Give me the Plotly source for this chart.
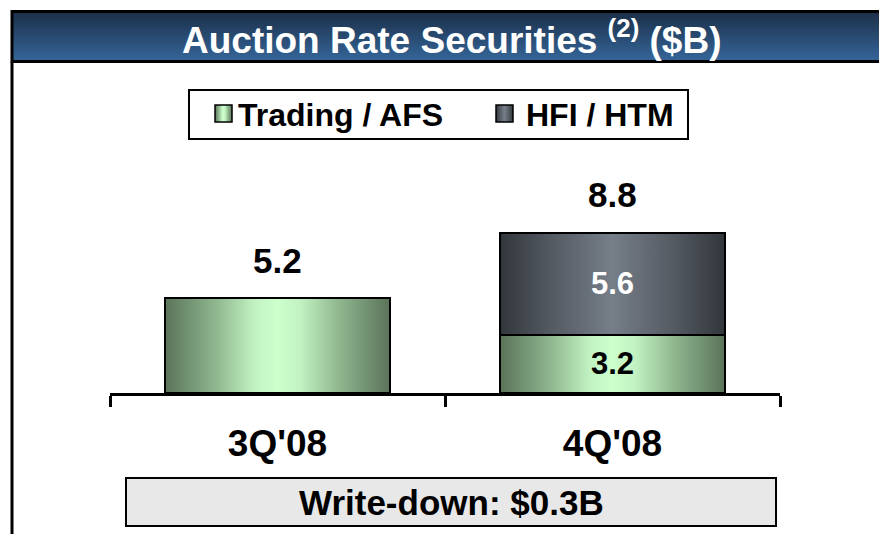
import base64
import plotly.graph_objects as go

# ---- data ----
categories = ["3Q'08", "4Q'08"]
trading_afs = [5.2, 3.2]
hfi_htm = [0.0, 5.6]
series_names = ["Trading / AFS", "HFI / HTM"]
title_text = "Auction Rate Securities <sup>(2)</sup> ($B)"
footer_text = "Write-down: $0.3B"

W, H = 879, 534
PL, PR, PT, PB = 110, 780, 211, 393  # plot area in px
YMAX = 10.0
BAR_W = 0.672
FONT = "Liberation Sans, Arial, sans-serif"


def px(x):
    return (x - PL) / (PR - PL)


def py(y):
    return (PB - y) / (PB - PT)


def grad_uri(stops, vertical=False):
    x2, y2 = ("0", "1") if vertical else ("1", "0")
    st = "".join(f'<stop offset="{o}" stop-color="{c}"/>' for o, c in stops)
    svg = (f'<svg xmlns="http://www.w3.org/2000/svg" width="100" height="100" preserveAspectRatio="none">'
           f'<defs><linearGradient id="g" x1="0" y1="0" x2="{x2}" y2="{y2}">{st}</linearGradient></defs>'
           f'<rect width="100" height="100" fill="url(#g)"/></svg>')
    return "data:image/svg+xml;base64," + base64.b64encode(svg.encode()).decode()


GREEN = grad_uri([(0, "#5a735a"), (0.22, "#8db58d"), (0.4, "#c2f2c2"), (0.5, "#ccffcc"),
                  (0.6, "#c2f2c2"), (0.78, "#8db58d"), (1, "#5a735a")])
GRAY = grad_uri([(0, "#32363c"), (0.22, "#535961"), (0.5, "#767e89"), (0.78, "#535961"), (1, "#32363c")])
TITLEBG = grad_uri([(0, "#1b2e47"), (1, "#35679b")], vertical=True)

fig = go.Figure()
fig.add_trace(go.Bar(
    x=categories, y=trading_afs, name=series_names[0], width=BAR_W,
    marker=dict(color="rgba(0,0,0,0)", line=dict(color="black", width=2)),
    showlegend=False, hoverinfo="skip"))
fig.add_trace(go.Bar(
    x=categories, y=hfi_htm, name=series_names[1], width=BAR_W,
    marker=dict(color="rgba(0,0,0,0)",
                line=dict(color=["black" if v > 0 else "rgba(0,0,0,0)" for v in hfi_htm], width=2)),
    showlegend=False, hoverinfo="skip"))

images = []
annotations = []
for i, (a, b) in enumerate(zip(trading_afs, hfi_htm)):
    images.append(dict(source=GREEN, xref="x", yref="y", x=i - BAR_W / 2, y=a,
                       sizex=BAR_W, sizey=a, sizing="stretch", layer="below"))
    if b > 0:
        images.append(dict(source=GRAY, xref="x", yref="y", x=i - BAR_W / 2, y=a + b,
                           sizex=BAR_W, sizey=b, sizing="stretch", layer="below"))
        annotations.append(dict(x=categories[i], y=a / 2, xref="x", yref="y", text=f"<b>{a:.1f}</b>",
                                showarrow=False, xanchor="center", yanchor="middle",
                                font=dict(family=FONT, size=31, color="black")))
        annotations.append(dict(x=categories[i], y=a + b / 2, xref="x", yref="y", text=f"<b>{b:.1f}</b>",
                                showarrow=False, xanchor="center", yanchor="middle",
                                font=dict(family=FONT, size=31, color="white")))
    annotations.append(dict(x=categories[i], y=a + b, xref="x", yref="y", text=f"<b>{a + b:.1f}</b>",
                            showarrow=False, xanchor="center", yanchor="middle", yshift=38,
                            font=dict(family=FONT, size=35, color="black")))

# title bar
images.append(dict(source=TITLEBG, xref="paper", yref="paper", x=px(12), y=py(11),
                   sizex=px(890) - px(12), sizey=py(11) - py(62), sizing="stretch", layer="below"))
shapes = [
    dict(type="rect", xref="paper", yref="paper", x0=px(12), x1=px(895), y0=py(61.5), y1=py(11.5),
         line=dict(color="black", width=3), fillcolor="rgba(0,0,0,0)"),
    dict(type="line", xref="paper", yref="paper", x0=px(12), x1=px(12), y0=py(62), y1=py(540),
         line=dict(color="black", width=3)),
    # legend box
    dict(type="rect", xref="paper", yref="paper", x0=px(189), x1=px(688), y0=py(139), y1=py(90),
         line=dict(color="black", width=2), fillcolor="rgba(0,0,0,0)"),
    # footer box
    dict(type="rect", xref="paper", yref="paper", x0=px(126), x1=px(776), y0=py(526), y1=py(478),
         line=dict(color="black", width=2), fillcolor="#e8e8e8", layer="below"),
]
# legend swatches
for sx, src in ((215, GREEN), (496, GRAY)):
    images.append(dict(source=src, xref="paper", yref="paper", x=px(sx), y=py(105),
                       sizex=px(sx + 17) - px(sx), sizey=py(105) - py(122), sizing="stretch", layer="above"))
    shapes.append(dict(type="rect", xref="paper", yref="paper", x0=px(sx), x1=px(sx + 17),
                       y0=py(122), y1=py(105), line=dict(color="black", width=1.5)))

annotations += [
    dict(x=px(452), y=py(37), xref="paper", yref="paper", text=f"<b>{title_text}</b>", showarrow=False,
         xanchor="center", yanchor="middle", font=dict(family=FONT, size=37, color="white")),
    dict(x=px(236), y=py(115), xref="paper", yref="paper", text=f"<b>{series_names[0]}</b>", showarrow=False,
         xanchor="left", yanchor="middle", font=dict(family=FONT, size=32, color="black")),
    dict(x=px(524), y=py(115), xref="paper", yref="paper", text=f"<b>{series_names[1]}</b>", showarrow=False,
         xanchor="left", yanchor="middle", font=dict(family=FONT, size=32, color="black")),
    dict(x=px(451), y=py(502), xref="paper", yref="paper", text=f"<b>{footer_text}</b>", showarrow=False,
         xanchor="center", yanchor="middle", font=dict(family=FONT, size=35, color="black")),
]

fig.update_layout(
    width=W, height=H, barmode="stack",
    margin=dict(l=PL, r=W - PR, t=PT, b=H - PB, pad=0),
    paper_bgcolor="white", plot_bgcolor="rgba(0,0,0,0)",
    showlegend=False, images=images, shapes=shapes, annotations=annotations,
    xaxis=dict(showline=True, linewidth=3, linecolor="black", ticks="outside", tickson="boundaries",
               ticklen=11, tickwidth=3, tickcolor="black", showgrid=False, range=[-0.5, 1.5],
               tickfont=dict(family=FONT, size=37, color="black", weight="bold"), ticklabelstandoff=16),
    yaxis=dict(range=[0, YMAX], visible=False, showgrid=False, zeroline=False),
)
fig.update_traces(cliponaxis=False)
fig.write_html("out.html", config={"displayModeBar": False},
               post_script="document.body.style.margin='0';")
